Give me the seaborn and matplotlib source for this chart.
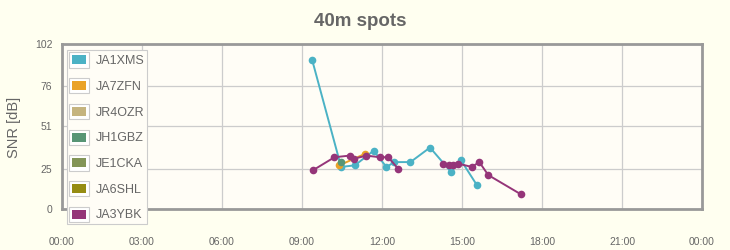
import numpy as np
import pandas as pd
import matplotlib
matplotlib.use("Agg")
import matplotlib.pyplot as plt
from matplotlib.patches import Rectangle, Patch
from matplotlib.legend_handler import HandlerBase
import seaborn as sns

# ---- data ----
stations = ["JA1XMS", "JA7ZFN", "JR4OZR", "JH1GBZ", "JE1CKA", "JA6SHL", "JA3YBK"]
colors = ["#4bb2c5", "#eaa228", "#c5b47f", "#579575", "#839557", "#958c12", "#953579"]

ja1xms_time = ["09:23", "10:28", "10:59", "11:41", "12:10", "12:28", "13:04", "13:48", "14:35", "14:58", "15:33"]
ja1xms_snr = [92, 26, 27, 36, 26, 29, 29, 38, 23, 30, 15]

ja7zfn_time = ["10:24", "11:21"]
ja7zfn_snr = [27, 34]

jr4ozr_time = []
jr4ozr_snr = []

jh1gbz_time = ["10:28"]
jh1gbz_snr = [29]

je1cka_time = []
je1cka_snr = []

ja6shl_time = []
ja6shl_snr = []

# None marks a break in the line
ja3ybk_time = ["09:25", "10:13", "10:47", "10:56", "11:25", "11:55", "12:14", "12:36", None,
               "14:17", "14:31", "14:39", "14:52", "15:22", "15:39", "15:59", "17:13"]
ja3ybk_snr = [24, 32, 33, 31, 33, 32, 32, 25, None, 28, 27, 27, 28, 26, 29, 21, 9]

y_ticks = [0, 25, 51, 76, 102]
x_ticks = [0, 3, 6, 9, 12, 15, 18, 21, 24]
x_labels = ["00:00", "03:00", "06:00", "09:00", "12:00", "15:00", "18:00", "21:00", "00:00"]

series = {
    "JA1XMS": (ja1xms_time, ja1xms_snr),
    "JA7ZFN": (ja7zfn_time, ja7zfn_snr),
    "JR4OZR": (jr4ozr_time, jr4ozr_snr),
    "JH1GBZ": (jh1gbz_time, jh1gbz_snr),
    "JE1CKA": (je1cka_time, je1cka_snr),
    "JA6SHL": (ja6shl_time, ja6shl_snr),
    "JA3YBK": (ja3ybk_time, ja3ybk_snr),
}


def to_hours(t):
    h, m = t.split(":")
    return int(h) + int(m) / 60.0


rows = []
for name, (times, snrs) in series.items():
    seg = 0
    for t, s in zip(times, snrs):
        if t is None:
            seg += 1
            continue
        rows.append({"station": name, "seg": f"{name}-{seg}", "hour": to_hours(t), "snr": s})
df = pd.DataFrame(rows)

# ---- styling ----
sns.set_theme(style="white")
plt.rcParams["font.family"] = ["Liberation Sans", "DejaVu Sans"]

fig_bg = "#fffff0"
ax_bg = "#fffdf6"
text_c = "#666666"

fig = plt.figure(figsize=(7.3, 2.5), dpi=100, facecolor=fig_bg)
ax = fig.add_axes([62 / 730, 41 / 250, 640 / 730, 165 / 250])
ax.set_facecolor(ax_bg)

for i, name in enumerate(stations):
    sub = df[df["station"] == name]
    if sub.empty:
        continue
    sns.lineplot(data=sub, x="hour", y="snr", units="seg", estimator=None,
                 color=colors[i], marker="o", markersize=5.5, markeredgewidth=0,
                 linewidth=1.4, ax=ax, zorder=3 + i, legend=False, sort=False)

ax.set_xlim(0, 24)
ax.set_ylim(0, 102)
ax.set_xticks(x_ticks)
ax.set_xticklabels(x_labels)
ax.set_yticks(y_ticks)
ax.set_yticklabels([str(v) for v in y_ticks])
ax.grid(True, color="#cccccc", linewidth=0.9)
ax.set_axisbelow(True)
ax.set_xlabel("")
ax.set_ylabel("")

for sp in ax.spines.values():
    sp.set_color("#999999")
    sp.set_linewidth(2)
    sp.set_zorder(20)

ax.tick_params(axis="both", colors="#999999", labelcolor=text_c, labelsize=7.5,
               length=4, width=1, direction="out")
ax.tick_params(axis="x", pad=16.5)
ax.tick_params(axis="y", pad=3)

fig.text(0.493, 1 - 22 / 250, "40m spots", ha="center", va="center",
         fontsize=13.5, fontweight="bold", color=text_c)
fig.text(14 / 730, 1 - 127 / 250, "SNR [dB]", ha="center", va="center",
         rotation=90, fontsize=10.5, color=text_c)


class SwatchHandler(HandlerBase):
    def create_artists(self, legend, orig_handle, xdescent, ydescent, width, height, fontsize, trans):
        outer = Rectangle((-xdescent, -ydescent), width, height, facecolor="white",
                          edgecolor="#cccccc", linewidth=0.8, transform=trans)
        pad = 2.2
        inner = Rectangle((-xdescent + pad, -ydescent + pad), width - 2 * pad, height - 2 * pad,
                          facecolor=orig_handle.get_facecolor(), edgecolor="none", transform=trans)
        return [outer, inner]


handles = [Patch(facecolor=c) for c in colors]
leg = fig.legend(handles, stations, loc="upper left",
                 bbox_to_anchor=(67 / 730, 1 - 50 / 250), bbox_transform=fig.transFigure,
                 frameon=True, fancybox=False, edgecolor="#cccccc", facecolor=ax_bg,
                 framealpha=1, borderaxespad=0, borderpad=0.18, labelspacing=0.84,
                 handlelength=1.6, handleheight=1.5, handletextpad=0.55,
                 prop={"size": 9}, labelcolor=text_c,
                 handler_map={Patch: SwatchHandler()})
leg.get_frame().set_linewidth(0.8)
leg.set_zorder(30)

fig.savefig("out.png", dpi=100, facecolor=fig_bg)
